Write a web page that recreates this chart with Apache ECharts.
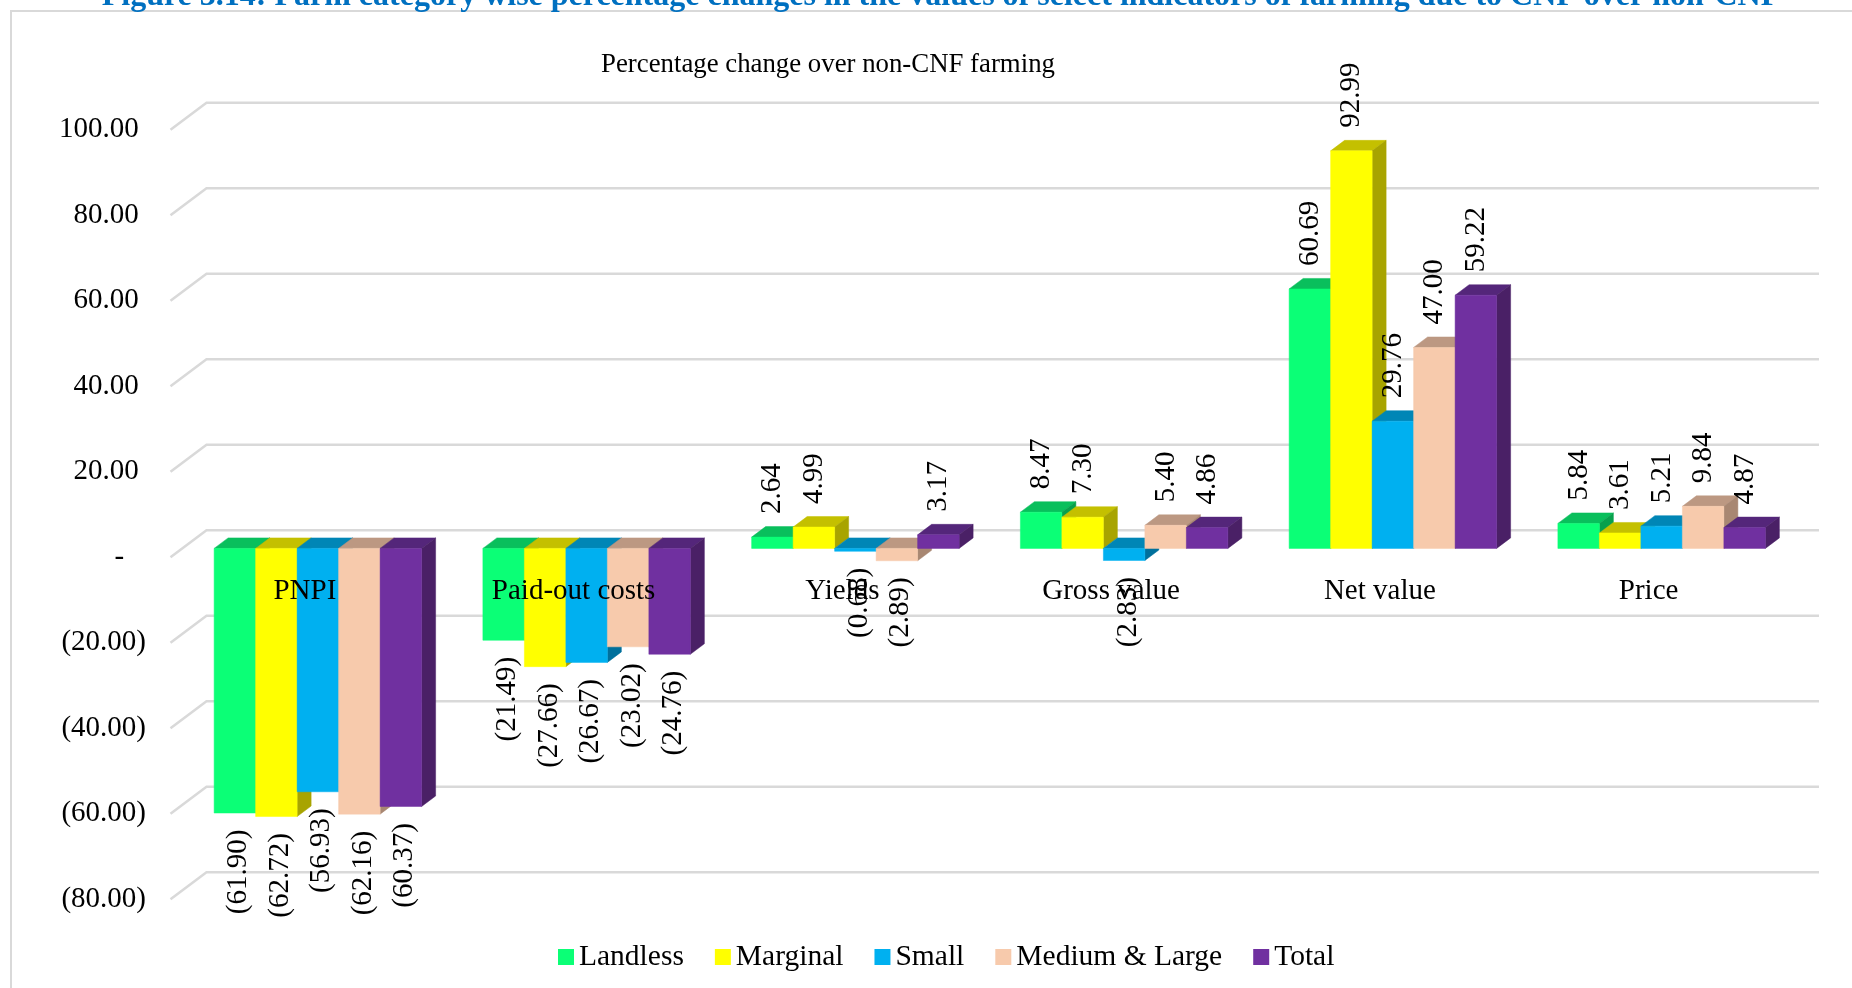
<!DOCTYPE html>
<html>
<head>
<meta charset="utf-8">
<style>html,body{margin:0;padding:0;background:#fff}#c{width:1852px;height:988px}</style>
<script src="https://cdn.jsdelivr.net/npm/echarts@6/dist/echarts.min.js"></script>
</head>
<body>
<div id="c"></div>
<script>
const categories = ["PNPI","Paid-out costs","Yields","Gross value","Net value","Price"];
const landless = [-61.90,-21.49,2.64,8.47,60.69,5.84];
const marginal = [-62.72,-27.66,4.99,7.30,92.99,3.61];
const small = [-56.93,-26.67,-0.68,-2.83,29.76,5.21];
const mediumLarge = [-62.16,-23.02,-2.89,5.40,47.00,9.84];
const total = [-60.37,-24.76,3.17,4.86,59.22,4.87];
const yTicks = [-80,-60,-40,-20,0,20,40,60,80,100];
const seriesNames = ["Landless","Marginal","Small","Medium & Large","Total"];
const seriesValues = [landless,marginal,small,mediumLarge,total];
const faceColors = ["#0BFF76","#FFFF00","#00B0F0","#F7CAAC","#7030A0"];
const topColors = ["#09BF5C","#C4C000","#0086B6","#BC9882","#54267A"];
const sideColors = ["#08A04D","#A8A400","#00709C","#A88772","#4A2066"];

const FONT = '"Liberation Serif","Times New Roman",serif';
const LABEL_FONT = '29px ' + FONT;
const PLANE_DX = 13, PLANE_DY = -8.8;   // wall front edge -> bar front plane
const BAR_DX = 14, BAR_DY = -10.5;      // bar depth
const WALL_DX = 36, WALL_DY = -27;      // floor depth
const BAR_SHARE = 0.1544;               // bar width as share of a category

function fmt(v){ return v < 0 ? '(' + Math.abs(v).toFixed(2) + ')' : v.toFixed(2); }

function renderGrid(params, api){
  const sys = params.coordSys;
  const y = api.coord([0, api.value(0)])[1];
  return {
    type:'polyline',
    shape:{points:[[sys.x,y],[sys.x+WALL_DX,y+WALL_DY],[sys.x+sys.width+WALL_DX,y+WALL_DY]]},
    style:{stroke:'#D9D9D9',lineWidth:2.5,fill:null},
    silent:true
  };
}

function barRenderer(k){
  return function(params, api){
    const val = api.value(1);
    const base = api.coord([api.value(0),0]);
    const end = api.coord([api.value(0),val]);
    const w = api.size([1,0])[0]*BAR_SHARE;
    const x0 = base[0]+PLANE_DX+(k-2.5)*w;
    const x1 = x0+w;
    const y0 = base[1]+PLANE_DY;
    const y1 = end[1]+PLANE_DY;
    const yTop = Math.min(y0,y1), yBot = Math.max(y0,y1);
    const poly = (pts,fill)=>({type:'polygon',shape:{points:pts},style:{fill:fill,stroke:fill,lineWidth:0.5}});
    const labelX = (x0+x1)/2+(val>=0?0.5:4);
    const labelY = val>=0 ? y1-23 : y1+16.6;
    return {type:'group',children:[
      poly([[x0,yTop],[x0+BAR_DX,yTop+BAR_DY],[x1+BAR_DX,yTop+BAR_DY],[x1,yTop]],topColors[k]),
      poly([[x1,yTop],[x1+BAR_DX,yTop+BAR_DY],[x1+BAR_DX,yBot+BAR_DY],[x1,yBot]],sideColors[k]),
      poly([[x0,yTop],[x1,yTop],[x1,yBot],[x0,yBot]],faceColors[k]),
      {type:'text',x:labelX,y:labelY,rotation:Math.PI/2,z2:100,silent:true,
       style:{text:fmt(val),font:LABEL_FONT,fill:'#000',align:val>=0?'left':'right',verticalAlign:'middle'}}
    ]};
  };
}

const chart = echarts.init(document.getElementById('c'),null,{renderer:'canvas'});
const barSeries = seriesNames.map((name,k)=>({
  name:name,type:'custom',coordinateSystem:'cartesian2d',z:3,
  itemStyle:{color:faceColors[k]},
  encode:{x:0,y:1},
  data:seriesValues[k].map((v,i)=>[i,v]),
  renderItem:barRenderer(k),
  animation:false
}));

chart.setOption({
  animation:false,
  backgroundColor:'#fff',
  title:[
    {text:"Figure 3.14: Farm category wise percentage changes in the values of select indicators of farming due to CNF over non-CNF",
     left:936,textAlign:'center',top:-24,
     textStyle:{fontFamily:FONT,fontSize:32,fontWeight:'bold',color:'#0070C0'}},
    {text:"Percentage change over non-CNF farming",
     left:823,textAlign:'center',top:46,
     textStyle:{fontFamily:FONT,fontSize:26.8,fontWeight:'normal',color:'#000'}}
  ],
  graphic:[
    {type:'polyline',shape:{points:[[11,988],[11,11],[1852,11]]},style:{stroke:'#D9D9D9',lineWidth:2,fill:null},silent:true}
  ],
  legend:{
    data:seriesNames,left:558,top:942,padding:0,icon:'rect',itemWidth:16,itemHeight:16,itemGap:31,
    textStyle:{fontFamily:FONT,fontSize:29.5,color:'#000'}
  },
  grid:{left:170.5,top:129.7,width:1612.5,height:769.5,containLabel:false},
  xAxis:{
    type:'category',data:categories,offset:-342,
    axisLine:{show:false,onZero:false},
    axisTick:{show:false},
    axisLabel:{fontFamily:FONT,fontSize:29,color:'#000',margin:20,interval:0},
    splitLine:{show:false},z:10
  },
  yAxis:{
    type:'value',min:-80,max:100,interval:20,
    axisLine:{show:false},axisTick:{show:false},splitLine:{show:false},
    axisLabel:{fontFamily:FONT,fontSize:29,color:'#000',margin:24.5,
      formatter:v=> v===0 ? '-\u00a0\u00a0\u00a0' : v<0 ? fmt(v) : fmt(v)+'\u00a0'}
  },
  series:[
    {type:'custom',coordinateSystem:'cartesian2d',z:1,silent:true,animation:false,
     encode:{y:0},data:yTicks.map(v=>[v]),renderItem:renderGrid}
  ].concat(barSeries)
});
</script>
</body>
</html>
